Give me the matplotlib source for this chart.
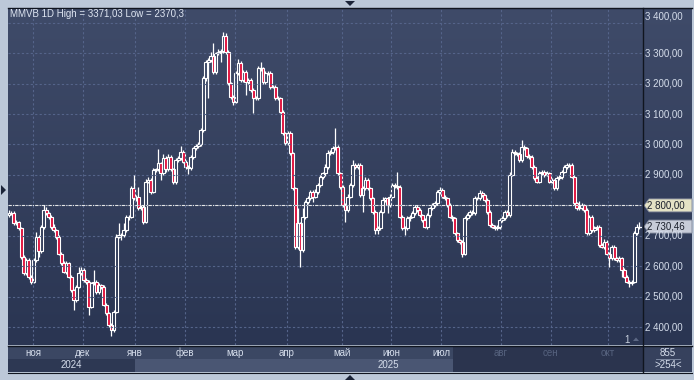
import matplotlib
matplotlib.use("Agg")
import matplotlib.pyplot as plt
import numpy as np
from matplotlib.colors import LinearSegmentedColormap
from matplotlib.patches import Polygon, Rectangle

plt.rcParams["font.family"] = ["Liberation Sans", "DejaVu Sans"]

# daily closes of MMVB (one value per candle)
closes = [
    2774, 2776, 2741, 2746, 2725, 2631, 2577, 2621, 2566, 2549,
    2621, 2697, 2651, 2730, 2785, 2774, 2761, 2730, 2719, 2697,
    2642, 2610, 2582, 2610, 2566, 2522, 2489, 2533, 2577, 2588,
    2555, 2549, 2467, 2544, 2549, 2516, 2538, 2533, 2473, 2445,
    2407, 2391, 2451, 2697, 2703, 2703, 2719, 2761, 2763, 2856,
    2823, 2829, 2790, 2796, 2746, 2878, 2883, 2845, 2916, 2918,
    2938, 2905, 2955, 2918, 2960, 2918, 2876, 2949, 2955, 2976,
    2944, 2927, 2922, 2960, 2987, 2995, 3001, 3048, 3217, 3272,
    3277, 3291, 3239, 3299, 3305, 3308, 3356, 3305, 3201, 3157,
    3141, 3234, 3267, 3212, 3239, 3206, 3212, 3179, 3152, 3152,
    3250, 3250, 3206, 3234, 3236, 3190, 3190, 3152, 3152, 3108,
    3037, 3004, 3037, 2971, 2856, 2664, 2741, 2653, 2763, 2812,
    2823, 2845, 2829, 2845, 2867, 2894, 2905, 2927, 2973, 2976,
    2987, 2993, 2905, 2861, 2801, 2785, 2829, 2867, 2933, 2927,
    2933, 2834, 2856, 2883, 2856, 2823, 2779, 2719, 2725, 2779,
    2818, 2823, 2801, 2829, 2867, 2865, 2861, 2763, 2725, 2725,
    2757, 2763, 2774, 2796, 2785, 2768, 2752, 2730, 2768, 2790,
    2801, 2807, 2845, 2851, 2829, 2823, 2801, 2763, 2757, 2708,
    2686, 2681, 2642, 2757, 2768, 2779, 2774, 2823, 2823, 2840,
    2834, 2818, 2779, 2735, 2730, 2725, 2730, 2752, 2757, 2779,
    2768, 2900, 2976, 2971, 2969, 2949, 2993, 2987, 2962, 2960,
    2927, 2889, 2878, 2905, 2911, 2900, 2905, 2878, 2883, 2856,
    2889, 2894, 2911, 2927, 2933, 2933, 2894, 2807, 2790, 2790,
    2801, 2785, 2708, 2761, 2719, 2725, 2730, 2670, 2664, 2681,
    2642, 2626, 2664, 2626, 2621, 2626, 2588, 2566, 2549, 2544,
    2549, 2708, 2730, 2730.46,
]
first_open = 2770

# wick lengths above / below the body, in index points
upper_wick = [
    11, 5, 6, 6, 4, 5, 7, 6, 5, 6,
    6, 17, 5, 6, 15, 10, 5, 6, 8, 5,
    6, 5, 6, 8, 5, 6, 5, 7, 22, 11,
    5, 6, 5, 6, 39, 6, 7, 5, 6, 5,
    5, 6, 5, 8, 38, 6, 22, 6, 5, 8,
    44, 6, 32, 6, 5, 8, 11, 6, 7, 6,
    46, 5, 15, 6, 8, 5, 6, 7, 6, 19,
    5, 6, 5, 7, 6, 5, 8, 6, 9, 7,
    6, 14, 43, 6, 8, 5, 15.03, 9, 6, 5,
    6, 8, 13, 6, 7, 5, 6, 6, 5, 6,
    7, 22, 6, 8, 6, 5, 6, 5, 6, 5,
    6, 5, 8, 6, 5, 6, 49, 5, 27, 6,
    7, 6, 5, 8, 6, 7, 6, 8, 9, 6,
    7, 60, 5, 6, 5, 6, 8, 7, 16, 6,
    6, 5, 9, 11, 6, 5, 5, 6, 6, 7,
    8, 6, 5, 7, 6, 6, 46, 5, 6, 6,
    7, 6, 8, 6, 5, 6, 5, 6, 7, 6,
    6, 7, 6, 10, 5, 6, 5, 6, 6, 5,
    6, 5, 6, 8, 7, 6, 6, 8, 6, 10,
    6, 5, 6, 5, 6, 6, 7, 6, 8, 6,
    6, 9, 8, 6, 6, 5, 22, 6, 5, 6,
    6, 5, 6, 8, 6, 5, 7, 5, 6, 5,
    7, 6, 6, 7, 6, 7, 5, 6, 5, 25,
    6, 5, 6, 8, 6, 7, 6, 5, 6, 7,
    5, 6, 6, 5, 6, 7, 5, 6, 5, 6,
    6, 8, 10, 15,
]
lower_wick = [
    8, 6, 5, 6, 7, 6, 5, 6, 7, 6,
    5, 6, 20, 6, 7, 5, 6, 6, 5, 6,
    6, 7, 5, 6, 6, 5, 33, 6, 5, 7,
    6, 6, 27, 5, 6, 7, 6, 6, 5, 6,
    7, 20.7, 6, 6, 5, 17, 6, 5, 9, 6,
    6, 7, 5, 6, 6, 5, 6, 7, 5, 6,
    6, 20, 6, 7, 5, 6, 6, 5, 6, 6,
    6, 7, 19, 5, 6, 6, 5, 6, 6, 7,
    120, 6, 7, 6, 6, 33, 6, 7, 6, 6,
    11, 6, 5, 7, 6, 44, 6, 6, 50, 6,
    6, 7, 6, 6, 5, 7, 6, 6, 7, 6,
    5, 6, 6, 7, 6, 6, 6, 54, 6, 7,
    6, 5, 17, 6, 6, 5, 6, 7, 6, 6,
    6, 5, 6, 7, 6, 38, 6, 6, 5, 7,
    6, 6, 55, 6, 5, 6, 7, 14, 14, 6,
    5, 6, 27, 6, 5, 7, 6, 6, 5, 22,
    6, 7, 5, 6, 6, 7, 6, 5, 6, 6,
    5, 6, 7, 6, 5, 6, 6, 5, 7, 6,
    6, 7, 11, 6, 5, 6, 7, 6, 6, 5,
    6, 7, 6, 6, 5, 6, 7, 6, 5, 6,
    7, 6, 5, 6, 6, 7, 6, 5, 6, 6,
    7, 6, 5, 6, 6, 7, 5, 6, 6, 7,
    6, 5, 6, 6, 7, 6, 5, 6, 6, 5,
    6, 7, 6, 5, 6, 6, 7, 6, 5, 6,
    6, 28, 6, 6, 7, 6, 22, 6, 5, 11,
    6, 5, 6, 7,
]

month_labels = ["ноя", "дек", "янв", "фев", "мар", "апр", "май", "июн", "июл", "авг", "сен", "окт"]
month_first_candle = [10, 30, 51, 71, 91, 112, 134, 154, 174, 198, 218, 241]
year_labels = ["2024", "2025"]
year_first_candle = [0, 51]
price_levels = [2400, 2500, 2600, 2700, 2800, 2900, 3000, 3100, 3200, 3300, 3400]
marked_level = 2800
title = "MMVB 1D High = 3371,03 Low = 2370,3"
bars_total = "855"
bars_shown = ">254<"

opens = [first_open] + closes[:-1]
highs = [max(o, c) + u for o, c, u in zip(opens, closes, upper_wick)]
lows = [min(o, c) - d for o, c, d in zip(opens, closes, lower_wick)]
last_price = closes[-1]


def fmt(value):
    return f"{value:,.2f}".replace(",", " ").replace(".", ",")


W, H = 694, 380
fig = plt.figure(figsize=(W / 100, H / 100), dpi=100)
fig.patch.set_facecolor("#bcc8d8")

# background panel (pixel coordinates)
bg = fig.add_axes([0, 0, 1, 1])
panel = LinearSegmentedColormap.from_list("panel", ["#3f4b69", "#2a3552"])
bg.imshow(np.linspace(0, 1, 256).reshape(-1, 1), extent=(8, 692, 345, 8),
          cmap=panel, aspect="auto", interpolation="bilinear")
bg.set_xlim(0, W)
bg.set_ylim(H, 0)
bg.axis("off")

# candles
ax = fig.add_axes([8 / W, 35 / H, 634 / W, 337 / H])
ax.set_facecolor("none")
ax.set_xlim(-0.4, 254.2)
ax.set_ylim(2341.5, 3448.3)
ax.axis("off")

grid_style = dict(colors="#55648a", linestyles=(0, (2, 2)), linewidth=0.8)
ax.hlines(price_levels, -0.4, 254.2, **grid_style)
ax.vlines([m - 0.4 for m in month_first_candle], 2341.5, 3448.3, **grid_style)
ax.axhline(marked_level, color="#e6e6e6", linewidth=0.8, dashes=(3, 1, 1, 1))

body = 1.2
for i, (o, h, l, c) in enumerate(zip(opens, highs, lows, closes)):
    top, bottom = max(o, c), min(o, c)
    ax.plot([i, i], [top, h], color="white", linewidth=0.9, solid_capstyle="butt")
    ax.plot([i, i], [l, bottom], color="white", linewidth=0.9, solid_capstyle="butt")
    if top - bottom < 2:
        ax.plot([i - body / 2, i + body / 2], [c, c], color="white", linewidth=0.9)
        continue
    face = "#e0103c" if c < o else "none"
    ax.add_patch(Rectangle((i - body / 2, bottom), body, top - bottom,
                           facecolor=face, edgecolor="white", linewidth=0.8))

# foreground decorations (pixel coordinates)
fg = fig.add_axes([0, 0, 1, 1])
fg.set_facecolor("none")
fg.set_xlim(0, W)
fg.set_ylim(H, 0)
fg.axis("off")


def ypix(value):
    disp = ax.transData.transform((0, value))
    return fg.transData.inverted().transform(disp)[1]


def xpix(index):
    disp = ax.transData.transform((index, 0))
    return fg.transData.inverted().transform(disp)[0]


# bottom time axis bands
fg.add_patch(Rectangle((8, 346), 445, 13, color="#3b4763", lw=0))
fg.add_patch(Rectangle((8, 359), 127, 13, color="#2d3853", lw=0))
fg.add_patch(Rectangle((135, 359), 318, 13, color="#4a5673", lw=0))
fg.add_patch(Rectangle((453, 346), 190, 26, color="#2b344e", lw=0))
fg.add_patch(Rectangle((644, 346), 48, 26, color="#36415d", lw=0))

# frame lines
fg.plot([8, 692], [8, 8], color="#10151f", lw=1)
fg.plot([8, 692], [345.5, 345.5], color="#10151f", lw=1)
fg.plot([643.5, 643.5], [8, 372], color="#10151f", lw=1)
fg.plot([8, 692], [372.5, 372.5], color="#10151f", lw=0.8)
fg.plot([656, 680], [358.5, 358.5], color="#8894ad", lw=0.6)

for label, first in zip(month_labels, month_first_candle):
    x = xpix(first - 0.4)
    color = "#56627e" if x > 453 else "#d5ddeb"
    fg.text(x, 352.5, label, color=color, fontsize=7, ha="center", va="center")

year_bounds = year_first_candle + [254.6]
for k, label in enumerate(year_labels):
    x = (xpix(year_bounds[k] - 0.4) + xpix(year_bounds[k + 1] - 0.4)) / 2
    fg.text(x, 365.5, label, color="#d5ddeb", fontsize=7, ha="center", va="center")

fg.text(668, 352.5, bars_total, color="#d5ddeb", fontsize=7, ha="center", va="center")
fg.text(668, 365.5, bars_shown, color="#d5ddeb", fontsize=7, ha="center", va="center")

# price scale
for level in price_levels:
    if level == marked_level:
        continue
    y = ypix(level)
    if level == price_levels[-1]:
        y -= 6
    fg.text(645.5, y, fmt(level), color="#d5ddeb", fontsize=7, ha="left", va="center")

for value, face in [(marked_level, "#e4e2c5"), (last_price, "#c7ccd8")]:
    y = ypix(value)
    fg.add_patch(Polygon([(644, y), (649, y - 6.5), (692, y - 6.5), (692, y + 6.5), (649, y + 6.5)],
                         closed=True, facecolor=face, edgecolor="#7f8699", lw=0.6))
    fg.text(647.5, y, fmt(value), color="#1a1f2b", fontsize=7, ha="left", va="center")

fg.text(10, 14, title, color="#dfe6f2", fontsize=7, ha="left", va="center")
fg.text(627, 340, "1", color="#c8d0de", fontsize=7, ha="center", va="center")
fg.add_patch(Polygon([(633, 341), (639, 341), (636, 337.5)], closed=True, color="#5c6884", lw=0))

# scroll markers in the outer frame
marker = "#1b2438"
fg.add_patch(Polygon([(345, 1), (355, 1), (350, 6)], closed=True, color=marker, lw=0))
fg.add_patch(Polygon([(1, 185), (1, 195), (6, 190)], closed=True, color=marker, lw=0))
fg.add_patch(Polygon([(345, 380), (355, 380), (350, 375)], closed=True, color=marker, lw=0))

fig.savefig("out.png", dpi=100, facecolor=fig.get_facecolor())
plt.close(fig)
